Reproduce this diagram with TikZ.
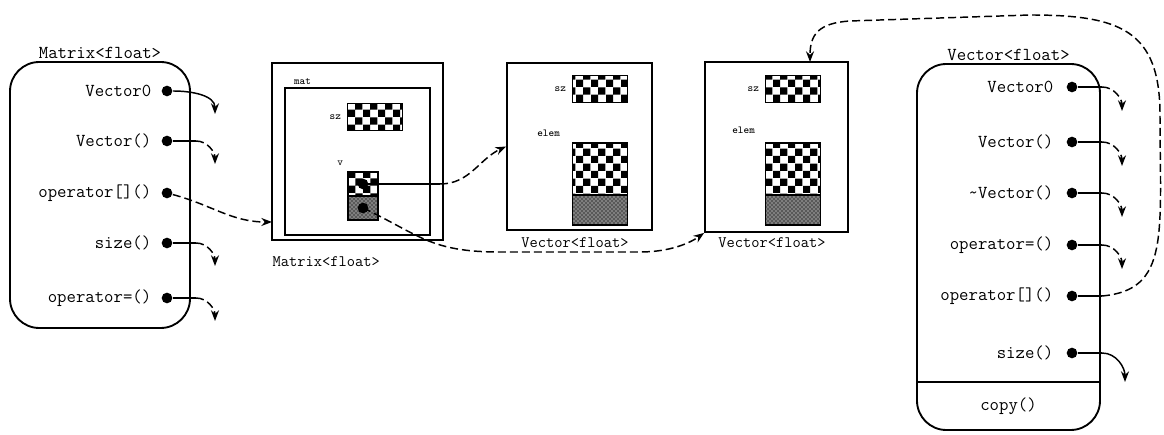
\documentclass[tikz,border=0pt]{standalone}
\usepackage{tikz}
\usetikzlibrary{arrows.meta,positioning,calc,patterns}

\begin{document}
\begin{tikzpicture}[x=0.75pt,y=0.75pt,line width=1.1pt,
    font=\ttfamily\fontsize{13.7}{15}\selectfont,
    >={Stealth[length=8pt,width=6pt]},
    clsbox/.style={draw,line width=1.4pt,rounded corners=22pt},
    objbox/.style={draw,line width=1.4pt},
    port/.style={circle,fill,inner sep=0pt,minimum size=8pt},
    memb/.style={anchor=east,inner sep=0pt},
    fld/.style={font=\ttfamily\fontsize{8}{9}\selectfont,anchor=east,inner sep=1pt},
    capt/.style={font=\ttfamily\fontsize{12}{13}\selectfont,inner sep=0pt},
    valcell/.style={draw,line width=0.8pt,pattern=checkerboard,inner sep=0pt,minimum width=41pt,minimum height=20pt},
    arrcell/.style={valcell,minimum height=39pt},
    tailcell/.style={draw,line width=0.8pt,preaction={fill=black!65},pattern=crosshatch dots,pattern color=white,inner sep=0pt,minimum width=41pt,minimum height=22.5pt},
    dsh/.style={dash pattern=on 6pt off 3pt}]
  \useasboundingbox (0,0) rectangle (1164,435);

  \node[clsbox,minimum width=135pt,minimum height=199.5pt] (lcls) at (100,240) {};
  \node[anchor=south,inner sep=1pt] (ltitle) at (lcls.north) {Matrix<float>};
  \foreach \i/\txt/\yy in {1/Vector0/344,2/Vector()/294,3/{operator[]()}/242,4/size()/192,5/{operator=()}/137}{
    \node[port] (lp\i) at (167,\yy) {};
    \node[memb] (lm\i) at (152,\yy) {\txt};
    \coordinate (lk\i) at (196,\yy);
    \coordinate (lt\i) at (215,\yy-23);
  }
  \draw[->] (lp1) to[out=0,in=90] (lt1);
  \foreach \i in {2,4,5}{
    \draw (lp\i) -- (lk\i);
    \draw[dsh,->] (lk\i) to[out=0,in=90] (lt\i);
  }

  \node[objbox,minimum width=128.25pt,minimum height=132.75pt] (mobj) at (357.5,283.5) {};
  \node[objbox,minimum width=108.75pt,minimum height=110.25pt] (mvar) at (357.5,273.5) {};
  \node[fld,anchor=south west] (mname) at (292,348) {mat};
  \node[valcell] (msz) at (375,318) {};
  \node[fld,left=3pt of msz] (mszl) {sz};
  \node[valcell,minimum width=22.5pt,minimum height=18pt] (mr0) at (363,251) {};
  \node[tailcell,minimum width=22.5pt,minimum height=18pt] (mr1) at (363,227) {};
  \fill (mr0.center) circle (4pt);
  \fill (mr1.center) circle (4pt);
  \node[fld] (mrl) at (345,272) {v};
  \node[capt,anchor=west] (mcap) at (272,173) {Matrix<float>};
  \coordinate (mentry) at (272,213);
  \coordinate (mk) at (440,251);
  \draw[dsh,->] (lp3) to[out=-15,in=180] (mentry);

  \node[objbox,minimum width=108.75pt,minimum height=125.25pt] (v1obj) at (579.5,288.5) {};
  \node[valcell] (v1sz) at (600,346) {};
  \node[fld,left=3pt of v1sz] (v1szl) {sz};
  \node[arrcell] (v1arr) at (600,266) {};
  \node[tailcell] (v1tail) at (600,225) {};
  \node[fld] (v1el) at (562,302) {elem};
  \node[capt] (v1cap) at (575,192) {Vector<float>};

  \node[objbox,minimum width=107.25pt,minimum height=127.5pt] (v2obj) at (776.5,288) {};
  \node[valcell] (v2sz) at (793,346) {};
  \node[fld,left=3pt of v2sz] (v2szl) {sz};
  \node[arrcell] (v2arr) at (793,266) {};
  \node[tailcell] (v2tail) at (793,225) {};
  \node[fld] (v2el) at (757,305) {elem};
  \node[capt] (v2cap) at (772,192) {Vector<float>};
  \coordinate (v2top) at (810,373);

  \draw (mr0.center) -- (mk);
  \draw[dsh,->] (mk) to[out=0,in=205] (v1obj.west);
  \draw[dsh,->] (mr1.center) .. controls (420,200) and (430,183) .. (500,183) -- (640,183) .. controls (670,183) and (690,192) .. (v2obj.south west);

  \node[clsbox,minimum width=137.25pt,minimum height=274.5pt] (rcls) at (1008.5,188) {};
  \node[anchor=south,inner sep=1pt] (rtitle) at (rcls.north) {Vector<float>};
  \coordinate (rdiv) at (1000,53);
  \draw[line width=1.4pt] (rcls.west |- rdiv) -- (rcls.east |- rdiv);
  \node (rcopy) at (1008.5,29) {copy()};
  \foreach \i/\txt/\yy in {1/Vector0/348,2/Vector()/293,3/{\textasciitilde Vector()}/242,4/{operator=()}/190,5/{operator[]()}/139,6/size()/82}{
    \node[port] (rp\i) at (1072,\yy) {};
    \node[memb] (rm\i) at (1054,\yy) {\txt};
    \coordinate (rk\i) at (1102,\yy);
    \coordinate (rt\i) at (1122,\yy-24);
  }
  \coordinate (rt6) at (1125,53);
  \foreach \i in {1,...,4}{
    \draw (rp\i) -- (rk\i);
    \draw[dsh,->] (rk\i) to[out=0,in=90] (rt\i);
  }
  \draw (rp6) -- (rk6);
  \draw[->] (rk6) to[out=0,in=90] (rt6);
  \draw (rp5) -- (rk5);
  \draw[dsh,->] (rk5) .. controls (1170,145) and (1160,200) .. (1160,320) .. controls (1160,405) and (1120,420) .. (1030,420) -- (850,414) .. controls (818,412) and (810,400) .. (v2top);
\end{tikzpicture}
\end{document}
